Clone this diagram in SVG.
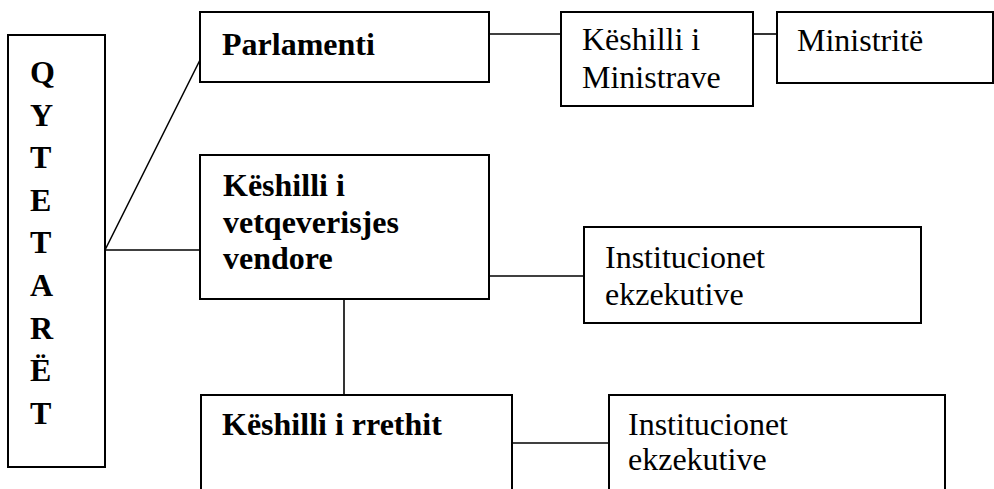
<svg xmlns="http://www.w3.org/2000/svg" width="994" height="489" viewBox="0 0 994 489">
  <style>
    .box { fill: #fff; stroke: #000; stroke-width: 2; }
    .wire { fill: none; stroke: #000; stroke-width: 1.6; }
    text { font-size: 32px; fill: #000; }
    .b { font-weight: bold; }
  </style>
  <rect width="994" height="489" fill="#fff"/>

  <!-- connectors -->
  <g id="connectors">
    <path class="wire" d="M105 250 L200 60"/>
    <path class="wire" d="M105 250 H200"/>
    <path class="wire" d="M489 34 H561"/>
    <path class="wire" d="M753 34 H777"/>
    <path class="wire" d="M489 276 H584"/>
    <path class="wire" d="M344 299 V395"/>
    <path class="wire" d="M512 443 H609"/>
  </g>

  <g font-family="'Liberation Serif', 'DejaVu Serif', serif">
    <g id="qytetaret">
      <rect class="box" x="8" y="35" width="97" height="432"/>
      <text class="b" x="30" y="83">Q</text>
      <text class="b" x="30" y="126">Y</text>
      <text class="b" x="30" y="168">T</text>
      <text class="b" x="30" y="211">E</text>
      <text class="b" x="30" y="253">T</text>
      <text class="b" x="30" y="296">A</text>
      <text class="b" x="30" y="339">R</text>
      <text class="b" x="30" y="381">Ë</text>
      <text class="b" x="30" y="424">T</text>
    </g>

    <g id="parlamenti">
      <rect class="box" x="200" y="12" width="289" height="70"/>
      <text class="b" x="222" y="55">Parlamenti</text>
    </g>

    <g id="keshilli-ministrave">
      <rect class="box" x="561" y="12" width="192" height="94"/>
      <text x="582" y="50">Këshilli i</text>
      <text x="582" y="88">Ministrave</text>
    </g>

    <g id="ministrite">
      <rect class="box" x="777" y="12" width="216" height="71"/>
      <text x="797" y="51">Ministritë</text>
    </g>

    <g id="keshilli-vetqeverisjes">
      <rect class="box" x="200" y="155" width="289" height="144"/>
      <text class="b" x="223" y="196">Këshilli i</text>
      <text class="b" x="223" y="233">vetqeverisjes</text>
      <text class="b" x="223" y="269">vendore</text>
    </g>

    <g id="institucionet-1">
      <rect class="box" x="584" y="227" width="337" height="96"/>
      <text x="605" y="268">Institucionet</text>
      <text x="605" y="305">ekzekutive</text>
    </g>

    <g id="keshilli-rrethit">
      <rect class="box" x="201" y="395" width="311" height="110"/>
      <text class="b" x="222" y="435">Këshilli i rrethit</text>
    </g>

    <g id="institucionet-2">
      <rect class="box" x="609" y="395" width="336" height="110"/>
      <text x="628" y="435">Institucionet</text>
      <text x="628" y="470">ekzekutive</text>
    </g>
  </g>
</svg>
